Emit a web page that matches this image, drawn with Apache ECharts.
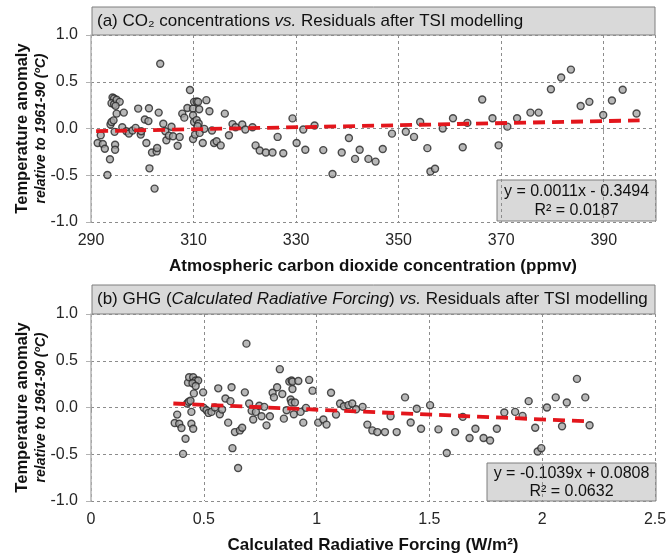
<!DOCTYPE html>
<html>
<head>
<meta charset="utf-8">
<script src="https://cdn.jsdelivr.net/npm/echarts@6/dist/echarts.min.js"></script>
<style>
  html, body { margin: 0; padding: 0; background: #fff; }
  #chart { width: 670px; height: 554px; }
</style>
</head>
<body>
<div id="chart"></div>
<script>
// panel (a): CO2 concentration (ppmv) vs residual (degC)
var co2Ppmv = [291.3, 291.9, 292.3, 292.7, 293.2, 293.7, 293.8, 294.0, 294.4, 294.2, 294.5, 294.0, 294.5, 295.0, 295.6, 294.8, 295.0, 294.6, 294.7, 294.7,
  296.1, 296.4, 296.9, 297.4, 298.1, 298.7, 299.2, 299.7, 299.8, 300.5, 301.2, 300.8, 301.3, 301.4, 301.9, 302.4, 302.8, 302.9, 303.2, 303.5,
  304.1, 304.5, 304.7, 305.2, 305.7, 306.0, 306.9, 307.3, 307.8, 308.2, 308.8, 309.3, 309.9, 310.1, 310.6, 310.9, 309.9, 310.1, 310.6, 311.0,
  310.8, 309.9, 310.3, 311.1, 311.2, 311.8, 312.1, 312.5, 313.1, 313.6, 314.0, 314.5, 315.3, 316.1, 316.9, 317.6, 318.2, 319.5, 320.1, 321.5,
  322.1, 322.9, 324.1, 325.4, 326.4, 327.5, 329.3, 330.1, 331.4, 331.8, 333.6, 335.3, 337.1, 338.9, 340.3, 341.5, 342.4, 344.1, 345.5,
  346.9, 348.7, 351.4, 353.0, 354.2, 355.6, 356.2, 357.1, 358.6, 360.6, 362.5, 363.4, 366.3, 368.3, 369.5, 371.2, 373.1, 375.7, 377.3,
  379.7, 381.7, 383.6, 385.5, 387.2, 389.9, 391.6, 393.7, 396.4]
var co2Resid = [-0.155, -0.072, -0.166, -0.217, -0.498, -0.329, 0.043, 0.069, 0.087, 0.332, 0.321, 0.271, 0.26, 0.307, 0.285, 0.242, 0.159, -0.036, -0.173, -0.227,
  0.014, 0.17, -0.029, -0.054, -0.022, 0.007, 0.213, -0.065, -0.029, 0.097, 0.079, -0.155, 0.217, -0.426, -0.256, -0.643, -0.245, -0.209, 0.17, 0.693,
  0.051, -0.029, -0.126, -0.076, 0.018, -0.083, -0.184, -0.09, 0.159, 0.116, 0.22, 0.412, 0.213, 0.285, 0.289, 0.285, 0.141, 0.069, 0.09, 0.054,
  0.025, -0.112, -0.065, 0.206, -0.047, -0.155, -0.004, 0.303, 0.184, -0.022, -0.155, -0.137, -0.181, 0.159, -0.072, 0.047, 0.014, 0.043, -0.011, 0.014,
  -0.181, -0.235, -0.256, -0.256, -0.09, -0.264, 0.108, -0.155, -0.011, -0.227, 0.032, -0.231, -0.487, -0.256, -0.101, -0.325, -0.227, -0.325, -0.354,
  -0.22, -0.055, -0.035, -0.09, 0.07, -0.21, -0.46, -0.43, 0.0, 0.11, -0.2, 0.06, 0.31, 0.11, -0.18, 0.02, 0.11, 0.17, 0.17,
  0.42, 0.545, 0.63, 0.24, 0.285, 0.145, 0.3, 0.415, 0.16]
var co2Trend = [[291, -0.029], [397, 0.087]]

// panel (b): calculated radiative forcing (W/m2) vs residual (degC)
var forcingWm2 = [0.371, 0.382, 0.391, 0.401, 0.408, 0.419, 0.426, 0.433, 0.441, 0.43, 0.435, 0.453, 0.464, 0.475, 0.45, 0.464, 0.456, 0.445, 0.445, 0.453,
  0.497, 0.5, 0.512, 0.521, 0.534, 0.549, 0.564, 0.571, 0.581, 0.596, 0.608, 0.618, 0.623, 0.627, 0.638, 0.652, 0.66, 0.67, 0.682, 0.689,
  0.701, 0.712, 0.719, 0.731, 0.746, 0.756, 0.768, 0.778, 0.793, 0.805, 0.811, 0.825, 0.837, 0.848, 0.855, 0.867, 0.879, 0.889, 0.893, 0.919,
  0.885, 0.889, 0.904, 0.893, 0.899, 0.929, 0.941, 0.953, 0.967, 0.982, 1.007, 1.03, 1.044, 1.064, 1.086, 1.104, 1.121, 1.141, 1.158, 1.175,
  1.204, 1.225, 1.247, 1.269, 1.303, 1.328, 1.355, 1.392, 1.417, 1.444, 1.463, 1.503, 1.54, 1.577, 1.614, 1.648, 1.678, 1.704, 1.74, 1.769,
  1.799, 1.832, 1.88, 1.913, 1.94, 1.969, 1.98, 1.996, 2.021, 2.06, 2.088, 2.109, 2.154, 2.191, 2.21]
var forcingResid = [-0.165, -0.076, -0.173, -0.219, -0.496, -0.335, 0.043, 0.061, 0.072, 0.266, 0.324, 0.324, 0.288, 0.288, 0.259, 0.23, 0.151, -0.047, -0.173, -0.227,
  0.162, -0.004, -0.029, -0.058, -0.047, 0.0, 0.205, -0.072, -0.022, 0.097, -0.162, 0.068, 0.216, -0.435, -0.263, -0.647, -0.245, -0.216, 0.162, 0.683,
  0.043, -0.036, -0.129, -0.047, 0.018, -0.094, 0.007, -0.191, -0.094, 0.158, 0.108, 0.216, 0.41, 0.144, -0.119, -0.029, 0.277, 0.288, 0.277, 0.284,
  0.086, 0.054, 0.054, 0.198, -0.072, -0.047, -0.162, -0.004, 0.295, 0.18, -0.162, -0.129, -0.183, 0.158, -0.076, 0.043, 0.014, 0.025, 0.043, -0.018,
  0.007, -0.183, -0.245, -0.263, -0.263, -0.094, -0.263, 0.108, -0.16, -0.014, -0.227, 0.025, -0.234, -0.486, -0.263, -0.1, -0.327, -0.227, -0.327, -0.353,
  -0.227, -0.054, -0.047, -0.09, 0.068, -0.216, -0.47, -0.435, 0, 0.108, -0.2, 0.054, 0.306, 0.108, -0.19]
var forcingTrend = [[0.365, 0.043], [2.21, -0.149]]

// axis ranges
var co2Axis = [290, 400, 20]
var forcingAxis = [0, 2.5, 0.5]
var residAxis = [-1, 1, 0.5]

var FONT = "'Liberation Sans', Arial, sans-serif"
var gridCol = '#8c8c8c'
var axisCol = '#b3b3b3'

function zip (xs, ys) {
  var out = []
  for (var i = 0; i < Math.min(xs.length, ys.length); i++) out.push([xs[i], ys[i]])
  return out
}

function makeX (idx, rng, name, hideMax) {
  return {
    type: 'value',
    gridIndex: idx,
    min: rng[0],
    max: rng[1],
    interval: rng[2],
    name: name,
    nameLocation: 'middle',
    nameGap: 36,
    nameTextStyle: {fontFamily: FONT, fontSize: 17, fontWeight: 'bold', color: '#111'},
    axisLine: {show: false},
    axisTick: {show: true, length: 5, lineStyle: {color: '#999'}},
    axisLabel: {fontFamily: FONT, fontSize: 16, color: '#262626', margin: 11, showMaxLabel: !hideMax},
    splitLine: {show: true, lineStyle: {color: gridCol, type: [3, 3], width: 1}}
  }
}

function makeY (idx) {
  return {
    type: 'value',
    gridIndex: idx,
    min: residAxis[0],
    max: residAxis[1],
    interval: residAxis[2],
    name: '{a|Temperature anomaly}\n{b|relative to 1961-90 (ºC)}',
    nameLocation: 'middle',
    nameRotate: 90,
    nameGap: 40,
    nameMoveOverlap: false,
    nameTextStyle: {
      rich: {
        a: {fontFamily: FONT, fontSize: 16.5, fontWeight: 'bold', color: '#111', lineHeight: 19},
        b: {fontFamily: FONT, fontSize: 14, fontWeight: 'bold', fontStyle: 'italic', color: '#111', lineHeight: 19}
      }
    },
    axisLine: {show: true, lineStyle: {color: axisCol, width: 1.5}},
    axisTick: {show: true, length: 5, lineStyle: {color: axisCol}},
    axisLabel: {
      fontFamily: FONT, fontSize: 16, color: '#262626', margin: 13,
      formatter: function (v) { return v.toFixed(1) }
    },
    splitLine: {show: true, lineStyle: {color: gridCol, type: [3, 3], width: 1}}
  }
}

var dotStyle = {color: '#a6a6a6', borderColor: '#262626', borderWidth: 1.4}
var trendStyle = {color: '#e3161c', width: 3.8, type: [12, 7]}

function labelBox (x, y, w, h, text, rich, tx) {
  return {
    type: 'group',
    z: 100,
    children: [
      {type: 'rect', shape: {x: x, y: y, width: w, height: h}, style: {fill: '#d9d9d9', stroke: '#7f7f7f', lineWidth: 1}},
      {type: 'text', x: tx, y: y + h / 2,
        style: {text: text, rich: rich, fontFamily: FONT, fontSize: 17, fill: '#111', align: 'left', verticalAlign: 'middle'}}
    ]
  }
}

function eqBox (x, y, w, h, lines) {
  return {
    type: 'group',
    z: 100,
    children: [
      {type: 'rect', shape: {x: x, y: y, width: w, height: h}, style: {fill: '#d9d9d9', stroke: '#7f7f7f', lineWidth: 1}},
      {type: 'text', x: x + w / 2, y: y + h / 2 + 0.5,
        style: {text: lines.join('\n'), fontFamily: FONT, fontSize: 16, lineHeight: 18.5, fill: '#111', align: 'center', verticalAlign: 'middle'}}
    ]
  }
}

var italic = {i: {fontFamily: FONT, fontSize: 17, fontStyle: 'italic', fill: '#111'}}

var chart = echarts.init(document.getElementById('chart'))
chart.setOption({
  animation: false,
  textStyle: {fontFamily: FONT},
  grid: [
    {left: 91, right: 15, top: 35, height: 187, containLabel: false, outerBoundsMode: 'none'},
    {left: 91, right: 15, top: 314, height: 187, containLabel: false, outerBoundsMode: 'none'}
  ],
  xAxis: [
    makeX(0, co2Axis, 'Atmospheric carbon dioxide concentration (ppmv)', true),
    makeX(1, forcingAxis, 'Calculated Radiative Forcing (W/m²)', false)
  ],
  yAxis: [makeY(0), makeY(1)],
  series: [
    {type: 'scatter', xAxisIndex: 0, yAxisIndex: 0, data: zip(co2Ppmv, co2Resid), symbolSize: 7, itemStyle: dotStyle, z: 2},
    {type: 'line', xAxisIndex: 0, yAxisIndex: 0, data: co2Trend, symbol: 'none', lineStyle: trendStyle, z: 3, silent: true},
    {type: 'scatter', xAxisIndex: 1, yAxisIndex: 1, data: zip(forcingWm2, forcingResid), symbolSize: 7, itemStyle: dotStyle, z: 2},
    {type: 'line', xAxisIndex: 1, yAxisIndex: 1, data: forcingTrend, symbol: 'none', lineStyle: trendStyle, z: 3, silent: true}
  ],
  graphic: [
    labelBox(92, 7, 563, 28, '(a) CO₂ concentrations {i|vs.} Residuals after TSI modelling', italic, 97),
    labelBox(92, 285, 563, 29, '(b) GHG ({i|Calculated Radiative Forcing}) {i|vs.} Residuals after TSI modelling', italic, 97),
    eqBox(497, 180, 159, 41, ['y = 0.0011x - 0.3494', 'R² = 0.0187']),
    eqBox(487, 463, 169, 38, ['y = -0.1039x + 0.0808', 'R² = 0.0632'])
  ]
})
</script>
</body>
</html>
